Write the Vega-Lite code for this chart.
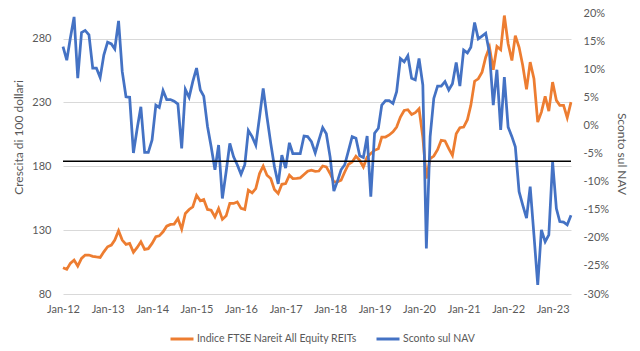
{
  "$schema": "https://vega.github.io/schema/vega-lite/v6.json",
  "width": 508,
  "height": 281,
  "autosize": {"type": "none"},
  "padding": {"left": 63, "top": 13, "right": 69, "bottom": 57},
  "background": "white",
  "config": {
    "view": {"stroke": null},
    "font": "Lato",
    "axis": {"labelColor": "#595959", "titleColor": "#595959", "labelFontSize": 11, "titleFontSize": 12, "titleFontWeight": "normal", "ticks": false, "domain": false, "gridColor": "#d9d9d9", "gridWidth": 1, "labelOverlap": false, "labelFlush": false}
  },
  "data": {"values": [
    {"date": "2012-01-01", "indice": 100.5, "sconto": 14.0},
    {"date": "2012-02-01", "indice": 99.3, "sconto": 11.6},
    {"date": "2012-03-01", "indice": 104, "sconto": 15.5},
    {"date": "2012-04-01", "indice": 106.6, "sconto": 19.3},
    {"date": "2012-05-01", "indice": 101.9, "sconto": 8.4},
    {"date": "2012-06-01", "indice": 107.9, "sconto": 16.5},
    {"date": "2012-07-01", "indice": 110.5, "sconto": 16.9},
    {"date": "2012-08-01", "indice": 110.5, "sconto": 16.1},
    {"date": "2012-09-01", "indice": 109.5, "sconto": 10.2},
    {"date": "2012-10-01", "indice": 109, "sconto": 10.2},
    {"date": "2012-11-01", "indice": 108.6, "sconto": 8.5},
    {"date": "2012-12-01", "indice": 113, "sconto": 12.5},
    {"date": "2013-01-01", "indice": 117, "sconto": 14.8},
    {"date": "2013-02-01", "indice": 118.3, "sconto": 14.5},
    {"date": "2013-03-01", "indice": 122.2, "sconto": 13.6},
    {"date": "2013-04-01", "indice": 129.5, "sconto": 18.6},
    {"date": "2013-05-01", "indice": 122.2, "sconto": 9.6},
    {"date": "2013-06-01", "indice": 118.8, "sconto": 5.1},
    {"date": "2013-07-01", "indice": 119.6, "sconto": 5.0},
    {"date": "2013-08-01", "indice": 112.6, "sconto": -4.9},
    {"date": "2013-09-01", "indice": 116.5, "sconto": -0.5},
    {"date": "2013-10-01", "indice": 120.9, "sconto": 3.3},
    {"date": "2013-11-01", "indice": 114.9, "sconto": -4.8},
    {"date": "2013-12-01", "indice": 115.5, "sconto": -4.8},
    {"date": "2014-01-01", "indice": 119.6, "sconto": -2.6},
    {"date": "2014-02-01", "indice": 124.8, "sconto": 3.6},
    {"date": "2014-03-01", "indice": 125.5, "sconto": 3.2},
    {"date": "2014-04-01", "indice": 128.7, "sconto": 6.2},
    {"date": "2014-05-01", "indice": 133.1, "sconto": 4.6},
    {"date": "2014-06-01", "indice": 134.5, "sconto": 4.6},
    {"date": "2014-07-01", "indice": 134.7, "sconto": 4.3},
    {"date": "2014-08-01", "indice": 139.1, "sconto": 3.8},
    {"date": "2014-09-01", "indice": 130.8, "sconto": -4.1},
    {"date": "2014-10-01", "indice": 143, "sconto": 6.4},
    {"date": "2014-11-01", "indice": 146.2, "sconto": 5.0},
    {"date": "2014-12-01", "indice": 148.2, "sconto": 7.8},
    {"date": "2015-01-01", "indice": 157.3, "sconto": 10.2},
    {"date": "2015-02-01", "indice": 152.9, "sconto": 6.3},
    {"date": "2015-03-01", "indice": 154, "sconto": 5.2},
    {"date": "2015-04-01", "indice": 146.2, "sconto": -0.2},
    {"date": "2015-05-01", "indice": 145.6, "sconto": -3.8},
    {"date": "2015-06-01", "indice": 140.4, "sconto": -7.9},
    {"date": "2015-07-01", "indice": 147, "sconto": -3.5},
    {"date": "2015-08-01", "indice": 138.4, "sconto": -13.0},
    {"date": "2015-09-01", "indice": 141.2, "sconto": -8.2},
    {"date": "2015-10-01", "indice": 150.9, "sconto": -3.2},
    {"date": "2015-11-01", "indice": 150.9, "sconto": -5.6},
    {"date": "2015-12-01", "indice": 152.1, "sconto": -7.0},
    {"date": "2016-01-01", "indice": 147, "sconto": -8.7},
    {"date": "2016-02-01", "indice": 146.2, "sconto": -7.0},
    {"date": "2016-03-01", "indice": 161.3, "sconto": -0.9},
    {"date": "2016-04-01", "indice": 159.1, "sconto": -2.0},
    {"date": "2016-05-01", "indice": 162.6, "sconto": -3.5},
    {"date": "2016-06-01", "indice": 174.3, "sconto": 1.5},
    {"date": "2016-07-01", "indice": 180.2, "sconto": 6.6},
    {"date": "2016-08-01", "indice": 173, "sconto": 1.5},
    {"date": "2016-09-01", "indice": 170.4, "sconto": -3.2},
    {"date": "2016-10-01", "indice": 161.8, "sconto": -7.3},
    {"date": "2016-11-01", "indice": 158.7, "sconto": -10.4},
    {"date": "2016-12-01", "indice": 165.9, "sconto": -5.3},
    {"date": "2017-01-01", "indice": 166.5, "sconto": -7.6},
    {"date": "2017-02-01", "indice": 173, "sconto": -3.1},
    {"date": "2017-03-01", "indice": 170.4, "sconto": -5.0},
    {"date": "2017-04-01", "indice": 170.6, "sconto": -5.0},
    {"date": "2017-05-01", "indice": 170.9, "sconto": -5.0},
    {"date": "2017-06-01", "indice": 173.5, "sconto": -1.9},
    {"date": "2017-07-01", "indice": 176.1, "sconto": -2.0},
    {"date": "2017-08-01", "indice": 176.9, "sconto": -2.9},
    {"date": "2017-09-01", "indice": 176.1, "sconto": -4.9},
    {"date": "2017-10-01", "indice": 176.3, "sconto": -2.6},
    {"date": "2017-11-01", "indice": 180.2, "sconto": -0.4},
    {"date": "2017-12-01", "indice": 179.5, "sconto": -1.5},
    {"date": "2018-01-01", "indice": 174.3, "sconto": -5.6},
    {"date": "2018-02-01", "indice": 167.7, "sconto": -11.7},
    {"date": "2018-03-01", "indice": 167.7, "sconto": -10.0},
    {"date": "2018-04-01", "indice": 169, "sconto": -7.9},
    {"date": "2018-05-01", "indice": 175.5, "sconto": -7.0},
    {"date": "2018-06-01", "indice": 181.6, "sconto": -4.5},
    {"date": "2018-07-01", "indice": 183.4, "sconto": -2.0},
    {"date": "2018-08-01", "indice": 187.8, "sconto": -2.3},
    {"date": "2018-09-01", "indice": 184.7, "sconto": -5.4},
    {"date": "2018-10-01", "indice": 179.5, "sconto": -5.7},
    {"date": "2018-11-01", "indice": 187.3, "sconto": -1.9},
    {"date": "2018-12-01", "indice": 190, "sconto": -12.7},
    {"date": "2019-01-01", "indice": 192.5, "sconto": -1.4},
    {"date": "2019-02-01", "indice": 193.8, "sconto": -0.5},
    {"date": "2019-03-01", "indice": 202.9, "sconto": 3.6},
    {"date": "2019-04-01", "indice": 202.9, "sconto": 4.4},
    {"date": "2019-05-01", "indice": 204.5, "sconto": 4.4},
    {"date": "2019-06-01", "indice": 207, "sconto": 3.9},
    {"date": "2019-07-01", "indice": 210.7, "sconto": 6.0},
    {"date": "2019-08-01", "indice": 218.5, "sconto": 11.9},
    {"date": "2019-09-01", "indice": 223.7, "sconto": 11.3},
    {"date": "2019-10-01", "indice": 224.3, "sconto": 12.4},
    {"date": "2019-11-01", "indice": 220.6, "sconto": 8.4},
    {"date": "2019-12-01", "indice": 222, "sconto": 8.1},
    {"date": "2020-01-01", "indice": 225, "sconto": 11.9},
    {"date": "2020-02-01", "indice": 202.9, "sconto": 7.2},
    {"date": "2020-03-01", "indice": 170.4, "sconto": -21.9},
    {"date": "2020-04-01", "indice": 186, "sconto": -2.0},
    {"date": "2020-05-01", "indice": 188, "sconto": 4.8},
    {"date": "2020-06-01", "indice": 193, "sconto": 7.0},
    {"date": "2020-07-01", "indice": 200.3, "sconto": 7.0},
    {"date": "2020-08-01", "indice": 199.8, "sconto": 7.8},
    {"date": "2020-09-01", "indice": 193.8, "sconto": 6.3},
    {"date": "2020-10-01", "indice": 188.6, "sconto": 7.4},
    {"date": "2020-11-01", "indice": 205.5, "sconto": 11.2},
    {"date": "2020-12-01", "indice": 210.2, "sconto": 7.0},
    {"date": "2021-01-01", "indice": 210.7, "sconto": 13.4},
    {"date": "2021-02-01", "indice": 216.5, "sconto": 12.9},
    {"date": "2021-03-01", "indice": 227.7, "sconto": 13.9},
    {"date": "2021-04-01", "indice": 246.6, "sconto": 18.3},
    {"date": "2021-05-01", "indice": 248.5, "sconto": 15.4},
    {"date": "2021-06-01", "indice": 253.7, "sconto": 15.9},
    {"date": "2021-07-01", "indice": 265.4, "sconto": 16.4},
    {"date": "2021-08-01", "indice": 273.2, "sconto": 12.9},
    {"date": "2021-09-01", "indice": 255.5, "sconto": 3.6},
    {"date": "2021-10-01", "indice": 273.8, "sconto": 9.9},
    {"date": "2021-11-01", "indice": 271.2, "sconto": -0.8},
    {"date": "2021-12-01", "indice": 298, "sconto": 8.6},
    {"date": "2022-01-01", "indice": 275.9, "sconto": -0.3},
    {"date": "2022-02-01", "indice": 262.8, "sconto": -2.0},
    {"date": "2022-03-01", "indice": 282.3, "sconto": -3.8},
    {"date": "2022-04-01", "indice": 273.2, "sconto": -11.8},
    {"date": "2022-05-01", "indice": 258.9, "sconto": -14.2},
    {"date": "2022-06-01", "indice": 240.2, "sconto": -16.5},
    {"date": "2022-07-01", "indice": 261.5, "sconto": -10.9},
    {"date": "2022-08-01", "indice": 248.5, "sconto": -19.5},
    {"date": "2022-09-01", "indice": 214.6, "sconto": -28.4},
    {"date": "2022-10-01", "indice": 222.4, "sconto": -18.6},
    {"date": "2022-11-01", "indice": 234.7, "sconto": -20.7},
    {"date": "2022-12-01", "indice": 223.2, "sconto": -19.5},
    {"date": "2023-01-01", "indice": 245.9, "sconto": -6.5},
    {"date": "2023-02-01", "indice": 231.6, "sconto": -14.8},
    {"date": "2023-03-01", "indice": 227.7, "sconto": -17.1},
    {"date": "2023-04-01", "indice": 227.7, "sconto": -17.2},
    {"date": "2023-05-01", "indice": 218, "sconto": -17.7},
    {"date": "2023-06-01", "indice": 230.2, "sconto": -16.0}
  ]},
  "layer": [
    {
      "mark": {"type": "line", "strokeWidth": 2.75},
      "encoding": {
        "x": {"field": "date", "type": "temporal",
          "scale": {"type": "utc", "domain": [{"year": 2012, "month": 1, "date": 1, "utc": true}, {"year": 2023, "month": 6, "date": 1, "utc": true}]},
          "axis": {"title": null, "format": "%b-%y", "grid": false, "labelPadding": 9, "labelOverlap": false,
            "values": [
              {"year": 2012, "month": 1, "date": 1, "utc": true},
              {"year": 2013, "month": 1, "date": 1, "utc": true},
              {"year": 2014, "month": 1, "date": 1, "utc": true},
              {"year": 2015, "month": 1, "date": 1, "utc": true},
              {"year": 2016, "month": 1, "date": 1, "utc": true},
              {"year": 2017, "month": 1, "date": 1, "utc": true},
              {"year": 2018, "month": 1, "date": 1, "utc": true},
              {"year": 2019, "month": 1, "date": 1, "utc": true},
              {"year": 2020, "month": 1, "date": 1, "utc": true},
              {"year": 2021, "month": 1, "date": 1, "utc": true},
              {"year": 2022, "month": 1, "date": 1, "utc": true},
              {"year": 2023, "month": 1, "date": 1, "utc": true}
            ]}},
        "y": {"field": "indice", "type": "quantitative",
          "scale": {"domain": [80, 300], "nice": false, "zero": false},
          "axis": {"values": [80, 130, 180, 230, 280], "title": "Crescita di 100 dollari", "grid": true, "labelPadding": 12, "titlePadding": 6, "titleY": 124, "labelOverlap": false}},
        "color": {"datum": "Indice FTSE Nareit All Equity REITs", "type": "nominal",
          "scale": {"domain": ["Indice FTSE Nareit All Equity REITs", "Sconto sul NAV"], "range": ["#ED7D31", "#4472C4"]},
          "legend": {"orient": "none", "legendX": 106, "legendY": 313, "direction": "horizontal", "title": null,
            "symbolType": "stroke", "symbolStrokeWidth": 3, "symbolSize": 529, "labelFontSize": 10.5, "labelColor": "#595959",
            "labelLimit": 400, "columnPadding": 13, "labelOffset": 2, "padding": 0}}
      }
    },
    {
      "layer": [
        {
          "mark": {"type": "line", "strokeWidth": 2.75},
          "encoding": {
            "x": {"field": "date", "type": "temporal"},
            "y": {"field": "sconto", "type": "quantitative",
              "scale": {"domain": [-30, 20], "nice": false, "zero": false},
              "axis": {"orient": "right", "values": [-30, -25, -20, -15, -10, -5, 0, 5, 10, 15, 20], "labelExpr": "datum.value + '%'", "title": "Sconto sul NAV", "grid": false, "labelPadding": 12, "titlePadding": 6, "labelOverlap": false}},
            "color": {"datum": "Sconto sul NAV", "type": "nominal"}
          }
        },
        {
          "data": {"values": [{"livello": "media"}]},
          "mark": {"type": "rule", "color": "#000000", "strokeWidth": 1.5},
          "encoding": {"y": {"datum": -6.4, "type": "quantitative",
            "axis": {"orient": "right", "values": [-30, -25, -20, -15, -10, -5, 0, 5, 10, 15, 20], "labelExpr": "datum.value + '%'", "title": "Sconto sul NAV", "grid": false, "labelPadding": 12, "titlePadding": 6, "labelOverlap": false}}}
        }
      ]
    }
  ],
  "resolve": {"scale": {"y": "independent"}}
}
